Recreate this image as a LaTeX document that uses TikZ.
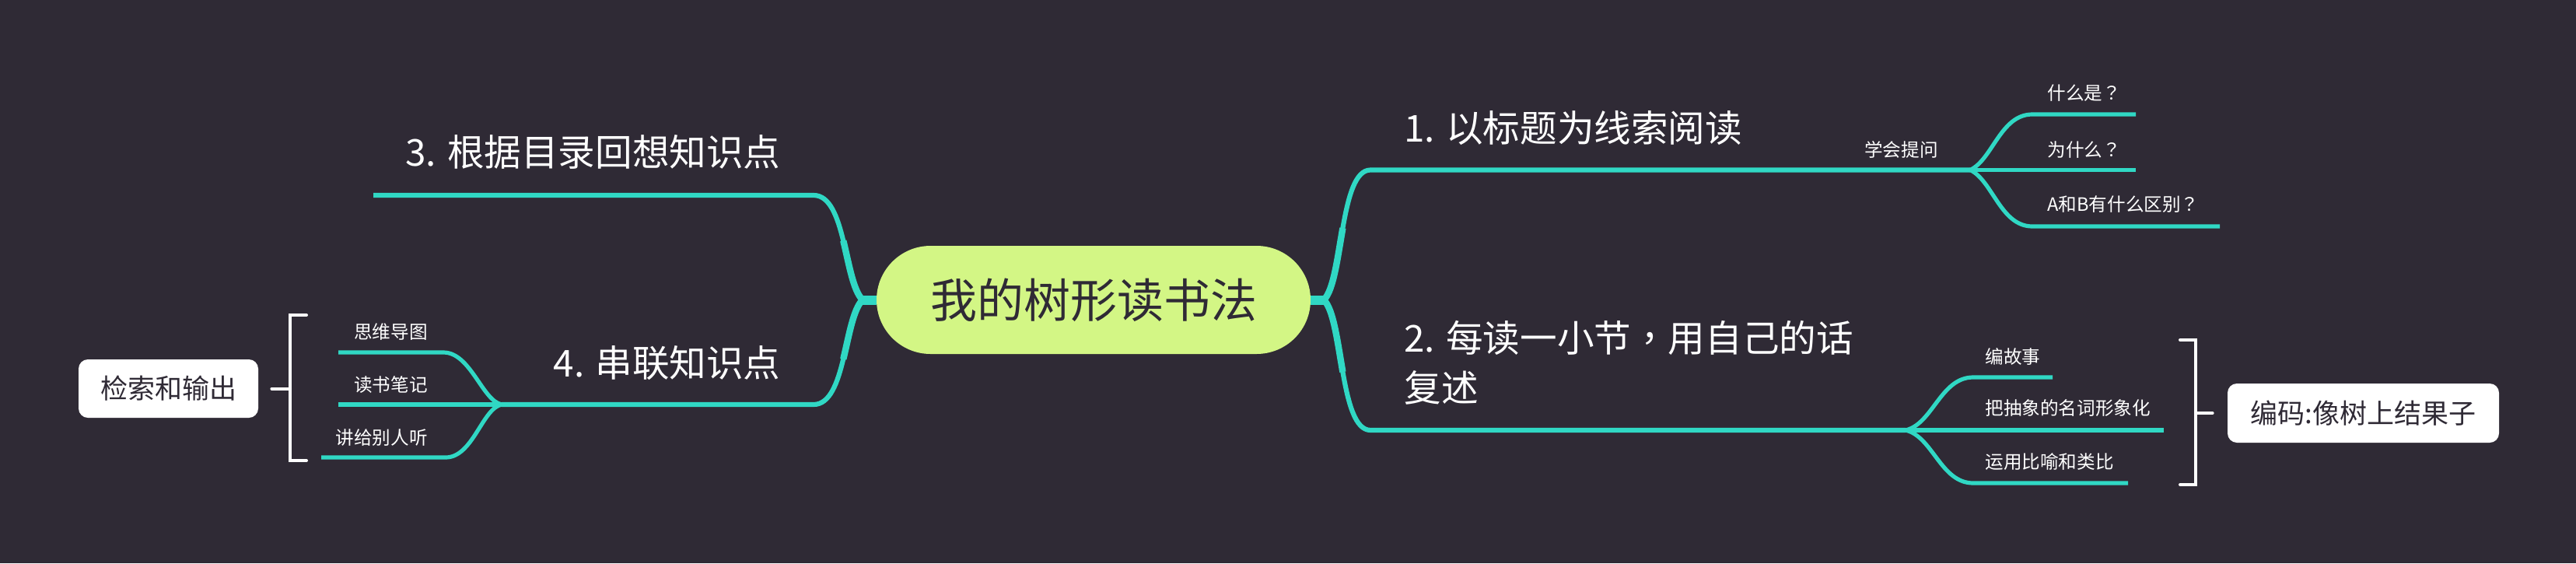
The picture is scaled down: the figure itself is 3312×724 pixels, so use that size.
\documentclass[tikz,border=0pt]{standalone}
\usepackage{fontspec}
\setmainfont{Noto Sans CJK SC}
\newfontfamily\tcpunct{Noto Sans CJK TC}
\definecolor{bgc}{HTML}{2F2A35}
\definecolor{mmteal}{HTML}{30D8C4}
\definecolor{rootfill}{HTML}{D3F685}
\tikzset{
  mainline/.style={draw=mmteal, line width=3.1pt},
  thickroot/.style={draw=mmteal, line width=4.2pt},
  subline/.style={draw=mmteal, line width=2.6pt},
  stub/.style={draw=mmteal, line width=6pt},
  bigtext/.style={text=white, inner sep=0pt, font=\fontsize{23.8pt}{32pt}\selectfont},
  smalltext/.style={text=white, inner sep=0pt, font=\fontsize{11.8pt}{14pt}\selectfont},
  boxnode/.style={fill=white, rounded corners=6pt, text=bgc, inner sep=0pt, font=\fontsize{17.5pt}{20pt}\selectfont},
  rootnode/.style={fill=rootfill, rounded corners=34.7pt, text=bgc, inner sep=0pt, font=\fontsize{30pt}{34pt}\selectfont},
  bracketline/.style={draw=white, line width=2pt, line cap=round, line join=miter}
}
\begin{document}
\begin{tikzpicture}[x=0.5pt,y=-0.5pt]
\fill[bgc] (0,0) rectangle (3312,724);
\useasboundingbox (0,0) rectangle (3312,724);

% root
\node[rootnode, minimum width=279pt, minimum height=69.5pt] (root) at (1406,385.5) {我的树形读书法};

% junction coordinates
\coordinate (JR) at (1702,385.5);
\coordinate (JL) at (1109,385.5);
\coordinate (J1) at (2533,218.5);
\coordinate (J2) at (2450,553);
\coordinate (J4) at (645,520);

\coordinate (b1s) at (1762,218.5);
\coordinate (b2s) at (1762,553);
\coordinate (b3e) at (1046,251);
\coordinate (b3end) at (480,251);
\coordinate (b4e) at (1046,520);

% main branches
\draw[mainline] (JR) .. controls (1727,362) and (1722,218.5) .. (b1s) -- (J1);
\draw[mainline] (JR) .. controls (1727,409) and (1722,553) .. (b2s) -- (J2);
\draw[mainline] (JL) .. controls (1085,362) and (1088,251) .. (b3e) -- (b3end);
\draw[mainline] (JL) .. controls (1085,409) and (1088,520) .. (b4e) -- (J4);

% thicker root halves of the main curves (taper)
\draw[thickroot] (JR) .. controls (1714.5,373.75) and (1719.5,332) .. (1726.4,293.2);
\draw[thickroot] (JR) .. controls (1714.5,397.25) and (1719.5,439.1) .. (1726.4,478.1);
\draw[thickroot] (JL) .. controls (1097,373.75) and (1091.75,340.1) .. (1084.25,309.4);
\draw[thickroot] (JL) .. controls (1097,397.25) and (1091.75,430.9) .. (1084.25,461.6);

% stubs
\draw[stub] (root.east) -- (JR);
\draw[stub] (root.west) -- (JL);

% branch 1 children
\coordinate (c11) at (2746,147);
\coordinate (c12) at (2746,218.5);
\coordinate (c13) at (2854,291);
\draw[subline] (J1) .. controls (2562,205) and (2572,147) .. (2613,147) -- (c11);
\draw[subline] (J1) -- (c12);
\draw[subline] (J1) .. controls (2562,232) and (2572,291) .. (2613,291) -- (c13);

% branch 2 children
\coordinate (c21) at (2639,485);
\coordinate (c22) at (2782,553);
\coordinate (c23) at (2736,621);
\draw[subline] (J2) .. controls (2485,545) and (2495,485) .. (2537,485) -- (c21);
\draw[subline] (J2) -- (c22);
\draw[subline] (J2) .. controls (2485,561) and (2495,621) .. (2537,621) -- (c23);

% branch 4 children
\coordinate (c41) at (435,453);
\coordinate (c42) at (435,520);
\coordinate (c43) at (413,588);
\draw[subline] (J4) .. controls (620,515) and (605,453) .. (570,453) -- (c41);
\draw[subline] (J4) -- (c42);
\draw[subline] (J4) .. controls (620,525) and (608,588) .. (573,588) -- (c43);

% branch texts
\node[bigtext, anchor=west] (t1) at (1805,164) {1. 以标题为线索阅读};
\node[bigtext, anchor=west, align=left] (t2) at (1805,466) {2. 每读一小节{\tcpunct ，}用自己的话\\复述};
\node[bigtext, anchor=east] (t3) at (1004,195) {3. 根据目录回想知识点};
\node[bigtext, anchor=east] (t4) at (1004,467) {4. 串联知识点};

% small labels
\node[smalltext, anchor=east] (l1) at (2492,192) {学会提问};
\node[smalltext, anchor=west] (l11) at (2632,120) {什么是{\tcpunct ？}};
\node[smalltext, anchor=west] (l12) at (2632,193) {为什么{\tcpunct ？}};
\node[smalltext, anchor=west] (l13) at (2632,263) {A和B有什么区别{\tcpunct ？}};
\node[smalltext, anchor=west] (l21) at (2552,458) {编故事};
\node[smalltext, anchor=west] (l22) at (2552,525) {把抽象的名词形象化};
\node[smalltext, anchor=west] (l23) at (2552,594) {运用比喻和类比};
\node[smalltext, anchor=east] (l41) at (550,427) {思维导图};
\node[smalltext, anchor=east] (l42) at (550,495) {读书笔记};
\node[smalltext, anchor=east] (l43) at (550,563) {讲给别人听};

% summary boxes
\node[boxnode, minimum width=174.5pt, minimum height=38pt] (code) at (3038.5,531) {编码:像树上结果子};
\node[boxnode, minimum width=115.5pt, minimum height=37.5pt] (out) at (216.5,499.5) {检索和输出};

% brackets
\coordinate (rbt) at (2803,437);
\coordinate (rbb) at (2803,623);
\coordinate (rbm) at (2823,531);
\draw[bracketline] (rbt) -- (2823,437) -- (2823,623) -- (rbb);
\draw[bracketline] (rbm) -- ([xshift=-9.5pt]code.west);

\coordinate (lbt) at (394,405);
\coordinate (lbb) at (394,592);
\coordinate (lbm) at (373,499.5);
\draw[bracketline] (lbt) -- (373,405) -- (373,592) -- (lbb);
\draw[bracketline] (lbm) -- ([xshift=8.5pt]out.east);
\end{tikzpicture}
\end{document}
